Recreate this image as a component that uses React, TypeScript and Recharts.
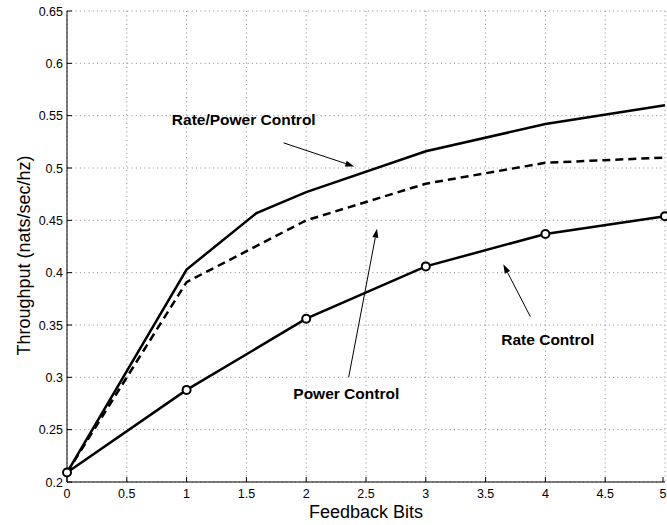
import React from "react";
import {
  LineChart,
  Line,
  XAxis,
  YAxis,
  CartesianGrid,
  ReferenceLine,
  ReferenceDot,
} from "recharts";

// feedback bits (x) for each curve
const bitsRatePower = [0, 1, 1.585, 2, 3, 4, 5];
const bitsOther = [0, 1, 2, 3, 4, 5];

// throughput (nats/sec/hz)
const ratePowerControl = [0.209, 0.403, 0.457, 0.477, 0.516, 0.542, 0.56];
const powerControl = [0.209, 0.391, 0.45, 0.485, 0.505, 0.51];
const rateControl = [0.209, 0.288, 0.356, 0.406, 0.437, 0.454];

const xTicks = [0, 0.5, 1, 1.5, 2, 2.5, 3, 3.5, 4, 4.5, 5];
const yTicks = [0.2, 0.25, 0.3, 0.35, 0.4, 0.45, 0.5, 0.55, 0.6, 0.65];

// text callouts with arrows, in data coordinates
const notes = [
  { text: "Rate/Power Control", x: 1.478, y: 0.546, from: [1.811, 0.524], to: [2.402, 0.5015] },
  { text: "Power Control", x: 2.335, y: 0.2845, from: [2.355, 0.3], to: [2.592, 0.442] },
  { text: "Rate Control", x: 4.02, y: 0.3365, from: [3.874, 0.358], to: [3.648, 0.408] },
];

const FONT = "'Liberation Sans', Arial, Helvetica, sans-serif";
const TICK = 5;

const rpData = bitsRatePower.map((b, i) => ({ bits: b, t: ratePowerControl[i] }));
const pData = bitsOther.map((b, i) => ({ bits: b, t: powerControl[i] }));
const rData = bitsOther.map((b, i) => ({ bits: b, t: rateControl[i] }));

// matlab style: ticks point into the plot box
const BottomTick = ({ x, y, payload }: any) => (
  <g>
    <line x1={x} y1={y} x2={x} y2={y - TICK} stroke="#000" />
    <text x={x} y={y + 7} dy="0.71em" textAnchor="middle" fontSize={12.5} fontFamily={FONT} fill="#000">
      {String(payload.value)}
    </text>
  </g>
);

const LeftTick = ({ x, y, payload }: any) => (
  <g>
    <line x1={x} y1={y} x2={x + TICK} y2={y} stroke="#000" />
    <text x={x - 4} y={y} dy="0.36em" textAnchor="end" fontSize={12.5} fontFamily={FONT} fill="#000">
      {String(payload.value)}
    </text>
  </g>
);

const TopTick = ({ x, y }: any) => <line x1={x} y1={y} x2={x} y2={y + TICK} stroke="#000" />;
const RightTick = ({ x, y }: any) => <line x1={x} y1={y} x2={x - TICK} y2={y} stroke="#000" />;

const XTitle = ({ viewBox }: any) => (
  <text
    x={viewBox.x + viewBox.width / 2}
    y={viewBox.y + 36}
    textAnchor="middle"
    fontSize={18}
    fontFamily={FONT}
    fill="#000"
  >
    Feedback Bits
  </text>
);

const YTitle = ({ viewBox }: any) => {
  const cx = viewBox.x + 29.5;
  const cy = viewBox.y + viewBox.height / 2 + 9;
  return (
    <text
      x={cx}
      y={cy}
      transform={`rotate(-90, ${cx}, ${cy})`}
      textAnchor="middle"
      fontSize={18}
      fontFamily={FONT}
      fill="#000"
    >
      Throughput (nats/sec/hz)
    </text>
  );
};

const Arrow = ({ x1, y1, x2, y2 }: any) => {
  const a = Math.atan2(y2 - y1, x2 - x1);
  const len = 9;
  const w = 3;
  const bx = x2 - len * Math.cos(a);
  const by = y2 - len * Math.sin(a);
  const pts = `${x2},${y2} ${bx + w * Math.sin(a)},${by - w * Math.cos(a)} ${bx - w * Math.sin(a)},${by + w * Math.cos(a)}`;
  return (
    <g>
      <line x1={x1} y1={y1} x2={bx} y2={by} stroke="#000" strokeWidth={1} />
      <polygon points={pts} fill="#000" />
    </g>
  );
};

export default function App() {
  return (
    <div>
      <style>{"body{margin:0}"}</style>
      <LineChart width={667} height={525} margin={{ top: 11, right: 2, bottom: 0, left: 0 }}>
        <CartesianGrid stroke="#8a8a8a" strokeDasharray="1 3.3" />
        <XAxis
          dataKey="bits"
          type="number"
          domain={[0, 5]}
          ticks={xTicks}
          height={43}
          tickSize={0}
          tickMargin={0}
          tick={<BottomTick />}
          axisLine={{ stroke: "#000" }}
          label={<XTitle />}
        />
        <XAxis
          xAxisId="top"
          orientation="top"
          dataKey="bits"
          type="number"
          domain={[0, 5]}
          ticks={xTicks}
          height={0}
          tickSize={0}
          tickMargin={0}
          tick={<TopTick />}
          axisLine={{ stroke: "#000" }}
        />
        <YAxis
          type="number"
          domain={[0.2, 0.65]}
          ticks={yTicks}
          width={67}
          tickSize={0}
          tickMargin={0}
          tick={<LeftTick />}
          axisLine={{ stroke: "#000" }}
          label={<YTitle />}
        />
        <YAxis
          yAxisId="right"
          orientation="right"
          type="number"
          domain={[0.2, 0.65]}
          ticks={yTicks}
          width={0}
          tickSize={0}
          tickMargin={0}
          tick={<RightTick />}
          axisLine={{ stroke: "#000" }}
        />

        <Line
          data={rpData}
          dataKey="t"
          type="linear"
          stroke="#000"
          strokeWidth={2.5}
          dot={false}
          isAnimationActive={false}
        />
        <Line
          data={pData}
          dataKey="t"
          type="linear"
          stroke="#000"
          strokeWidth={2.5}
          strokeDasharray="8 5"
          dot={false}
          isAnimationActive={false}
        />
        <Line
          data={rData}
          dataKey="t"
          type="linear"
          stroke="#000"
          strokeWidth={2.5}
          dot={{ r: 4, stroke: "#000", strokeWidth: 2, fill: "#fff" }}
          isAnimationActive={false}
        />

        {notes.map((n) => (
          <ReferenceLine
            key={"a" + n.text}
            segment={[
              { x: n.from[0], y: n.from[1] },
              { x: n.to[0], y: n.to[1] },
            ]}
            ifOverflow="visible"
            shape={<Arrow />}
          />
        ))}
        {notes.map((n) => (
          <ReferenceDot
            key={"t" + n.text}
            x={n.x}
            y={n.y}
            r={0}
            ifOverflow="visible"
            shape={(p: any) => (
              <text
                x={p.cx}
                y={p.cy}
                dy="0.36em"
                textAnchor="middle"
                fontSize={15.5}
                fontWeight="bold"
                fontFamily={FONT}
                fill="#000"
              >
                {n.text}
              </text>
            )}
          />
        ))}
      </LineChart>
    </div>
  );
}
